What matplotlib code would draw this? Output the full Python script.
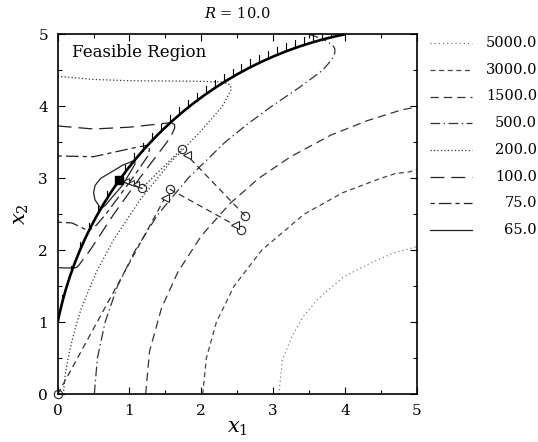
import numpy as np
import matplotlib.pyplot as plt
from matplotlib.patches import Arc
from matplotlib.lines import Line2D

plt.rcParams['font.family'] = 'DejaVu Serif'
plt.rcParams['mathtext.fontset'] = 'dejavuserif'
plt.rcParams['lines.scale_dashes'] = False

levels = [5000.0, 3000.0, 1500.0, 500.0, 200.0, 100.0, 75.0, 65.0]

# contour traces of the penalised function
c5000_x = [3.08, 3.13, 3.26, 3.42, 3.63, 3.98, 4.35, 4.67, 5.0]
c5000_y = [0.0, 0.48, 0.8, 1.08, 1.33, 1.63, 1.82, 1.96, 2.05]

c3000_x = [2.02, 2.07, 2.21, 2.455, 2.84, 3.43, 3.97, 4.5, 4.7, 4.9, 5.0]
c3000_y = [0.0, 0.5, 1.0, 1.5, 2.0, 2.5, 2.8, 3.0, 3.065, 3.09, 3.12]

c1500_x = [1.225, 1.28, 1.447, 1.675, 2.0, 2.4, 2.8, 3.245, 3.805, 4.31, 4.79, 5.0]
c1500_y = [0.0, 0.6, 1.2, 1.7, 2.2, 2.65, 3.0, 3.3, 3.6, 3.8, 3.95, 3.99]

c500_x = [0.51, 0.553, 0.66, 0.832, 1.08, 1.397, 1.815, 2.33, 2.64, 2.98, 3.35,
          3.69, 3.82, 3.86, 3.86, 3.83, 3.7]
c500_y = [0.0, 0.5, 1.0, 1.5, 2.0, 2.5, 3.0, 3.5, 3.75, 4.0, 4.25,
          4.5, 4.65, 4.74, 4.8, 4.85, 4.93]
c500_top_x = [3.5, 3.65, 3.7]
c500_top_y = [5.0, 4.95, 4.93]

c200_x = [0.078, 0.108, 0.165, 0.24, 0.33, 0.54, 0.775, 1.14, 1.55, 1.97,
          2.295, 2.42, 2.4, 2.31]
c200_y = [0.0, 0.3, 0.6, 0.9, 1.2, 1.7, 2.14, 2.69, 3.2, 3.63,
          4.0, 4.24, 4.3, 4.335]
c200_top_x = [0.0, 0.5, 1.0, 1.5, 2.0, 2.31]
c200_top_y = [4.417, 4.373, 4.355, 4.352, 4.347, 4.335]

c100_up_x = [0.0, 0.5, 1.0, 1.25, 1.57]
c100_up_y = [3.727, 3.685, 3.71, 3.737, 3.772]
c100_low_x = [0.0, 0.1, 0.22]
c100_low_y = [1.76, 1.755, 1.755]
c100_x = [0.22, 0.26, 0.3, 0.45, 0.78, 1.14, 1.52, 1.585, 1.63, 1.627, 1.57]
c100_y = [1.755, 1.76, 1.8, 2.0, 2.5, 3.0, 3.5, 3.6, 3.7, 3.75, 3.772]

c75_up_x = [0.0, 0.5, 1.0, 1.25]
c75_up_y = [3.31, 3.3, 3.41, 3.46]
c75_low_x = [0.0, 0.2, 0.43]
c75_low_y = [2.39, 2.38, 2.27]
c75_x = [0.43, 0.54, 0.67, 1.04, 1.18, 1.25, 1.28, 1.25]
c75_y = [2.27, 2.35, 2.5, 3.0, 3.2, 3.3, 3.4, 3.46]

c65_x = [0.602, 0.575, 0.52, 0.5, 0.52, 0.6, 0.77, 0.9, 1.0, 1.07,
         1.078, 1.05, 0.99, 0.9, 0.77, 0.66, 0.602]
c65_y = [2.58, 2.62, 2.7, 2.8, 2.9, 3.0, 3.1, 3.18, 3.22, 3.25,
         3.2, 3.15, 3.05, 2.9, 2.75, 2.62, 2.58]

# constraint (x1-5)^2 + x2^2 = 26
g_center = (5.0, 0.0)
g_radius = np.sqrt(26.0)

# search path
path1_x = [0.0, 1.49]
path1_y = [0.0, 2.72]
path2_x = [1.56, 2.47]
path2_y = [2.85, 2.35]
path3_x = [2.61, 1.8]
path3_y = [2.48, 3.32]
path4_x = [1.73, 1.17]
path4_y = [3.41, 2.86]
path5_x = [1.17, 0.85]
path5_y = [2.86, 2.97]
circ_x = [0.0, 1.56, 2.56, 2.61, 1.73, 1.17]
circ_y = [0.0, 2.85, 2.28, 2.48, 3.41, 2.86]
tri_x = [1.49, 2.47, 1.8]
tri_y = [2.72, 2.35, 3.32]
step_x = [0.95, 1.02, 1.09]
step_y = [2.96, 2.94, 2.92]
opt_x = [0.85]
opt_y = [2.97]

pieces = {
    5000.0: [(c5000_x, c5000_y)],
    3000.0: [(c3000_x, c3000_y)],
    1500.0: [(c1500_x, c1500_y)],
    500.0: [(c500_x, c500_y), (c500_top_x, c500_top_y)],
    200.0: [(c200_x, c200_y), (c200_top_x, c200_top_y)],
    100.0: [(c100_up_x, c100_up_y), (c100_low_x, c100_low_y), (c100_x, c100_y)],
    75.0: [(c75_up_x, c75_up_y), (c75_low_x, c75_low_y), (c75_x, c75_y)],
    65.0: [(c65_x, c65_y)],
}

styles = {
    5000.0: dict(ls=(0, (0.8, 2.2)), lw=0.8, color='#666666'),
    3000.0: dict(ls=(0, (3.6, 2.6)), lw=0.9, color='#444444'),
    1500.0: dict(ls=(0, (6.0, 3.6)), lw=0.9, color='#333333'),
    500.0: dict(ls=(0, (7.0, 2.5, 1.0, 2.5)), lw=0.9, color='#333333'),
    200.0: dict(ls=(0, (0.9, 1.6)), lw=0.9, color='#333333'),
    100.0: dict(ls=(0, (10.0, 5.0)), lw=0.9, color='#222222'),
    75.0: dict(ls=(0, (3.0, 3.0, 9.0, 3.0)), lw=0.9, color='#222222'),
    65.0: dict(ls='-', lw=0.9, color='#222222'),
}

fig = plt.figure(figsize=(5.38, 4.42), dpi=100)
ax = fig.add_axes([0.1072, 0.1079, 0.6673, 0.8145])

for lev in levels:
    for px, py in pieces[lev]:
        ax.plot(px, py, **styles[lev])

# constraint boundary with hatching on the feasible side
t1 = np.degrees(np.arctan2(5.0 - g_center[1], 4.0 - g_center[0]))
t2 = np.degrees(np.arctan2(1.0 - g_center[1], 0.0 - g_center[0]))
ax.add_patch(Arc(g_center, 2 * g_radius, 2 * g_radius, theta1=t1, theta2=t2,
                 color='black', lw=1.9, zorder=4))
hx = np.arange(0.06, 4.0, 0.125)
hy = np.sqrt(g_radius ** 2 - (hx - g_center[0]) ** 2)
for a, b in zip(hx, hy):
    ax.plot([a, a], [b, b + 0.11], color='black', lw=0.8, zorder=4)

dash = dict(color='#333333', lw=0.9, ls=(0, (4.5, 3.0)))
ax.plot(path1_x, path1_y, **dash)
ax.plot(path2_x, path2_y, **dash)
ax.plot(path3_x, path3_y, **dash)
ax.plot(path4_x, path4_y, color='#333333', lw=0.9, ls=(0, (1, 1.5)))
ax.plot(path5_x, path5_y, color='#222222', lw=0.9)
ax.plot(circ_x, circ_y, 'o', ms=6, mfc='none', mec='#222222', mew=0.8,
        clip_on=False, zorder=5)
ax.plot(tri_x, tri_y, '<', ms=6, mfc='white', mec='#222222', mew=0.8, zorder=5)
ax.plot(step_x, step_y, '<', ms=4, mfc='white', mec='#222222', mew=0.7, zorder=5)
ax.plot(opt_x, opt_y, 's', ms=5.5, color='black', zorder=6)

ax.text(0.2, 4.68, 'Feasible Region', fontsize=12)

ax.set_xlim(0, 5)
ax.set_ylim(0, 5)
ax.set_xticks(range(6))
ax.set_yticks(range(6))
ax.set_xticks(np.arange(0.5, 5, 1.0), minor=True)
ax.set_yticks(np.arange(0.5, 5, 1.0), minor=True)
ax.tick_params(which='both', direction='in', top=True, right=True,
               labelsize=11, width=0.8)
ax.tick_params(which='major', length=5, pad=7)
ax.tick_params(which='minor', length=3)
for s in ax.spines.values():
    s.set_linewidth(1.2)
ax.set_xlabel('$x_1$', fontsize=15, labelpad=1)
ax.set_ylabel('$x_2$', fontsize=15, labelpad=5)
ax.set_title('$R$ = 10.0', fontsize=10.5, pad=12)

# legend drawn at the right, labels right aligned
for i, lev in enumerate(levels):
    yy = 1 - (43 + 26.75 * i) / 442
    st = styles[lev]
    fig.add_artist(Line2D([430 / 538, 472 / 538], [yy, yy], ls=st['ls'],
                          lw=st['lw'], color=st['color']))
    fig.text(537 / 538, yy, f'{lev:.1f}', ha='right', va='center', fontsize=10.5)

fig.savefig('out.png', dpi=100)
